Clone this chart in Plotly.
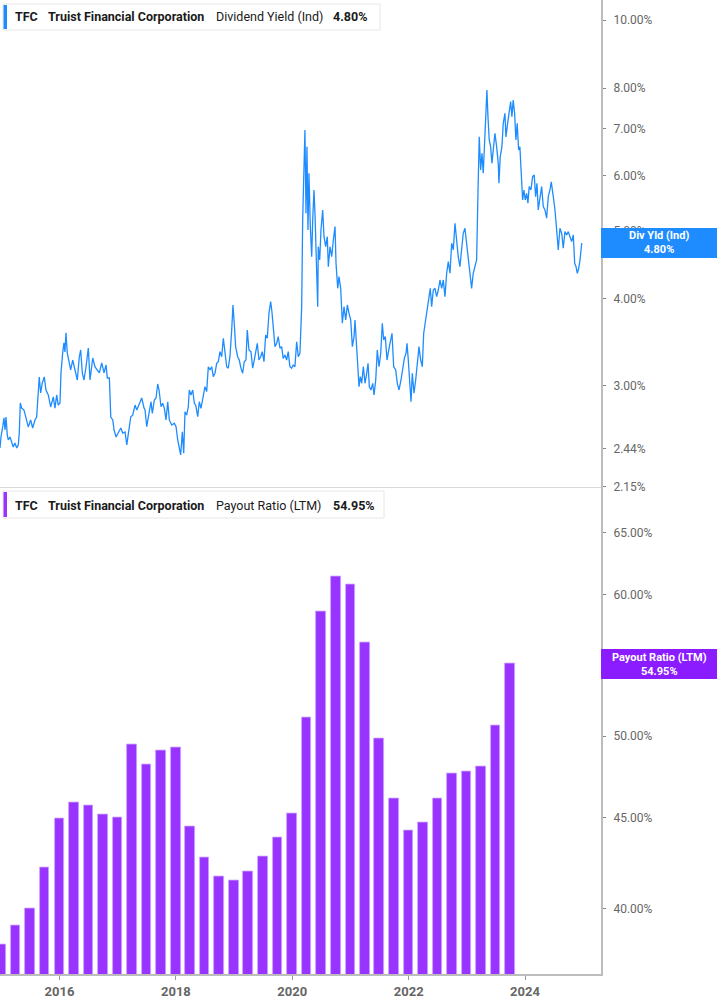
import pandas as pd
import plotly.graph_objects as go

# ---------------- data ----------------
yield_years = [
    2014.978, 2014.995, 2015.024, 2015.046, 2015.064, 2015.081, 2015.103, 2015.120, 2015.149, 2015.179,
    2015.206, 2015.235, 2015.265, 2015.292, 2015.309, 2015.327, 2015.350, 2015.390, 2015.424, 2015.464,
    2015.505, 2015.539, 2015.579, 2015.608, 2015.636, 2015.653, 2015.677, 2015.705, 2015.739, 2015.768,
    2015.808, 2015.849, 2015.894, 2015.923, 2015.952, 2015.979, 2016.009, 2016.026, 2016.055, 2016.077,
    2016.094, 2016.112, 2016.134, 2016.168, 2016.192, 2016.227, 2016.266, 2016.306, 2016.340, 2016.364,
    2016.392, 2016.421, 2016.455, 2016.495, 2016.524, 2016.571, 2016.610, 2016.649, 2016.684, 2016.725,
    2016.765, 2016.799, 2016.821, 2016.856, 2016.880, 2016.914, 2016.936, 2016.971, 2017.010, 2017.052,
    2017.086, 2017.125, 2017.155, 2017.182, 2017.223, 2017.258, 2017.297, 2017.327, 2017.371, 2017.412,
    2017.452, 2017.469, 2017.498, 2017.538, 2017.572, 2017.594, 2017.629, 2017.658, 2017.687, 2017.710,
    2017.744, 2017.773, 2017.801, 2017.830, 2017.859, 2017.887, 2017.928, 2017.972, 2018.002, 2018.031,
    2018.058, 2018.082, 2018.110, 2018.134, 2018.156, 2018.185, 2018.213, 2018.230, 2018.259, 2018.289,
    2018.316, 2018.340, 2018.375, 2018.402, 2018.431, 2018.471, 2018.500, 2018.529, 2018.557, 2018.586,
    2018.615, 2018.643, 2018.672, 2018.701, 2018.729, 2018.758, 2018.787, 2018.815, 2018.844, 2018.873,
    2018.900, 2018.929, 2018.959, 2018.981, 2019.003, 2019.027, 2019.062, 2019.089, 2019.119, 2019.148,
    2019.175, 2019.204, 2019.227, 2019.256, 2019.290, 2019.320, 2019.347, 2019.376, 2019.399, 2019.428,
    2019.457, 2019.485, 2019.514, 2019.543, 2019.571, 2019.600, 2019.629, 2019.651, 2019.680, 2019.703,
    2019.732, 2019.759, 2019.789, 2019.818, 2019.845, 2019.875, 2019.904, 2019.931, 2019.960, 2019.990,
    2020.017, 2020.046, 2020.076, 2020.103, 2020.132, 2020.162, 2020.179, 2020.201, 2020.218, 2020.236,
    2020.253, 2020.270, 2020.287, 2020.310, 2020.334, 2020.351, 2020.373, 2020.390, 2020.413, 2020.437,
    2020.447, 2020.471, 2020.493, 2020.522, 2020.545, 2020.574, 2020.601, 2020.619, 2020.648, 2020.677,
    2020.705, 2020.734, 2020.751, 2020.780, 2020.802, 2020.831, 2020.859, 2020.888, 2020.917, 2020.945,
    2020.974, 2021.003, 2021.031, 2021.060, 2021.077, 2021.106, 2021.124, 2021.146, 2021.168, 2021.192,
    2021.220, 2021.249, 2021.278, 2021.301, 2021.323, 2021.352, 2021.381, 2021.404, 2021.433, 2021.460,
    2021.490, 2021.519, 2021.546, 2021.570, 2021.598, 2021.627, 2021.657, 2021.684, 2021.713, 2021.742,
    2021.777, 2021.804, 2021.833, 2021.868, 2021.897, 2021.925, 2021.954, 2021.971, 2021.993, 2022.022,
    2022.040, 2022.062, 2022.091, 2022.120, 2022.148, 2022.177, 2022.206, 2022.234, 2022.258, 2022.285,
    2022.314, 2022.343, 2022.371, 2022.395, 2022.423, 2022.452, 2022.481, 2022.509, 2022.538, 2022.567,
    2022.595, 2022.624, 2022.653, 2022.681, 2022.710, 2022.739, 2022.767, 2022.796, 2022.825, 2022.852,
    2022.881, 2022.911, 2022.938, 2022.967, 2022.997, 2023.024, 2023.053, 2023.082, 2023.110, 2023.139,
    2023.168, 2023.191, 2023.213, 2023.237, 2023.260, 2023.282, 2023.306, 2023.328, 2023.345, 2023.363,
    2023.385, 2023.409, 2023.431, 2023.454, 2023.483, 2023.512, 2023.540, 2023.552, 2023.574, 2023.603,
    2023.626, 2023.655, 2023.672, 2023.701, 2023.729, 2023.753, 2023.775, 2023.797, 2023.821, 2023.844,
    2023.866, 2023.890, 2023.912, 2023.935, 2023.959, 2023.981, 2024.004, 2024.028, 2024.050, 2024.072,
    2024.101, 2024.131, 2024.158, 2024.182, 2024.205, 2024.227, 2024.256, 2024.285, 2024.313, 2024.342,
    2024.371, 2024.399, 2024.428, 2024.450, 2024.485, 2024.514, 2024.543, 2024.570, 2024.599, 2024.629,
    2024.656, 2024.685, 2024.715, 2024.742, 2024.771, 2024.800, 2024.828, 2024.852, 2024.875, 2024.897,
    2024.921, 2024.943, 2024.973,
]
yield_values = [
    2.443, 2.534, 2.619, 2.698, 2.593, 2.706, 2.550, 2.509, 2.534, 2.493,
    2.452, 2.484, 2.443, 2.468, 2.567, 2.834, 2.787, 2.769, 2.706, 2.619,
    2.680, 2.610, 2.680, 2.706, 2.939, 3.088, 2.929, 3.027, 3.088, 2.958,
    2.910, 2.797, 2.891, 2.787, 2.910, 2.815, 2.834, 3.129, 3.342, 3.454,
    3.353, 3.570, 3.342, 3.233, 3.160, 3.265, 3.160, 3.057, 3.298, 3.375,
    3.129, 3.057, 3.191, 3.397, 3.057, 3.287, 3.191, 3.160, 3.129, 3.233,
    3.129, 3.212, 3.077, 3.077, 2.706, 2.680, 2.593, 2.534, 2.567, 2.610,
    2.567, 2.576, 2.468, 2.567, 2.706, 2.724, 2.815, 2.769, 2.834, 2.881,
    2.787, 2.769, 2.621, 2.754, 2.846, 2.739, 2.862, 2.881, 3.017, 2.958,
    2.799, 2.831, 2.784, 2.680, 2.846, 2.680, 2.636, 2.651, 2.621, 2.509,
    2.427, 2.388, 2.578, 2.401, 2.754, 2.724, 2.799, 2.958, 2.910, 2.958,
    2.831, 2.815, 2.709, 2.846, 2.784, 2.894, 2.990, 2.942, 3.194, 3.160,
    3.194, 3.091, 3.126, 3.230, 3.247, 3.356, 3.301, 3.508, 3.338, 3.194,
    3.178, 3.301, 3.605, 3.914, 3.685, 3.412, 3.301, 3.265, 3.178, 3.126,
    3.247, 3.265, 3.605, 3.375, 3.356, 3.178, 3.265, 3.375, 3.450, 3.265,
    3.301, 3.356, 3.247, 3.546, 3.508, 3.808, 3.957, 3.828, 3.625, 3.412,
    3.450, 3.527, 3.394, 3.412, 3.283, 3.320, 3.265, 3.356, 3.194, 3.178,
    3.212, 3.194, 3.468, 3.301, 3.338, 3.892, 5.179, 5.974, 6.967, 5.295,
    6.594, 5.011, 6.041, 5.067, 4.589, 5.179, 5.717, 5.295, 4.589, 3.892,
    4.743, 4.540, 5.011, 5.353, 4.902, 4.743, 4.902, 4.441, 4.743, 4.589,
    4.849, 5.067, 4.491, 4.135, 4.298, 4.135, 3.685, 3.892, 3.725, 3.914,
    3.808, 3.725, 3.412, 3.527, 3.725, 3.412, 3.160, 2.990, 3.091, 3.024,
    3.194, 3.024, 3.126, 3.230, 2.990, 2.958, 3.024, 2.910, 3.057, 3.375,
    3.194, 3.338, 3.685, 3.488, 3.527, 3.265, 3.375, 3.488, 3.566, 3.194,
    3.160, 3.024, 2.958, 3.057, 3.160, 3.283, 3.338, 3.450, 3.265, 2.990,
    2.846, 3.126, 2.926, 3.057, 3.194, 3.412, 3.265, 3.194, 3.566, 3.685,
    3.850, 3.979, 4.135, 3.892, 4.112, 4.135, 4.023, 4.112, 4.250, 4.135,
    4.250, 4.023, 4.345, 4.515, 4.345, 4.797, 4.692, 5.124, 4.797, 4.589,
    4.441, 4.743, 4.957, 5.039, 4.797, 4.540, 4.393, 4.135, 4.345, 4.441,
    4.540, 5.655, 6.810, 6.107, 6.451, 6.041, 6.810, 7.775, 7.948, 7.280,
    6.741, 6.594, 6.242, 6.523, 6.891, 6.594, 6.242, 5.845, 6.380, 6.594,
    7.121, 7.361, 6.810, 7.121, 7.400, 7.648, 7.280, 7.691, 7.361, 6.741,
    7.121, 6.523, 6.594, 6.107, 5.532, 5.717, 5.532, 5.655, 5.472, 5.780,
    5.717, 5.974, 6.007, 5.593, 5.845, 5.353, 5.532, 5.780, 5.412, 5.353,
    5.209, 5.593, 5.717, 5.873, 5.593, 5.353, 5.011, 4.692, 5.039, 4.957,
    4.718, 4.984, 4.929, 4.984, 4.902, 4.822, 4.929, 4.491, 4.441, 4.345,
    4.417, 4.540, 4.800,
]

payout_quarters = [
    "2014-12-31", "2015-03-31", "2015-06-30", "2015-09-30", "2015-12-31",
    "2016-03-31", "2016-06-30", "2016-09-30", "2016-12-31",
    "2017-03-31", "2017-06-30", "2017-09-30", "2017-12-31",
    "2018-03-31", "2018-06-30", "2018-09-30", "2018-12-31",
    "2019-03-31", "2019-06-30", "2019-09-30", "2019-12-31",
    "2020-03-31", "2020-06-30", "2020-09-30", "2020-12-31",
    "2021-03-31", "2021-06-30", "2021-09-30", "2021-12-31",
    "2022-03-31", "2022-06-30", "2022-09-30", "2022-12-31",
    "2023-03-31", "2023-06-30", "2023-09-30",
]
payout_values = [
    38.19, 39.14, 40.00, 42.20, 44.96,
    45.90, 45.74, 45.18, 45.02,
    49.48, 48.22, 49.08, 49.25,
    44.48, 42.73, 41.72, 41.49,
    41.96, 42.79, 43.87, 45.25,
    51.22, 58.76, 61.45, 60.79,
    56.44, 49.85, 46.12, 44.29,
    44.75, 46.14, 47.64, 47.76,
    48.09, 50.71, 54.95,
]

yield_ticks = [2.15, 2.44, 3.00, 4.00, 5.00, 6.00, 7.00, 8.00, 10.00]
payout_ticks = [40, 45, 50, 55, 60, 65]
year_ticks = ["2016-01-01", "2018-01-01", "2020-01-01", "2022-01-01", "2024-01-01"]
year_labels = ["2016", "2018", "2020", "2022", "2024"]

ticker = "TFC"
company = "Truist Financial Corporation"
yield_name = "Dividend Yield (Ind)"
yield_last = "4.80%"
payout_name = "Payout Ratio (LTM)"
payout_last = "54.95%"


def yr2date(y):
    yr = int(y)
    start = pd.Timestamp(yr, 1, 1)
    return start + (pd.Timestamp(yr + 1, 1, 1) - start) * (y - yr)


yield_dates = [yr2date(v) for v in yield_years]

# ---------------- styling ----------------
BLUE = "#1E8CFF"
PURPLE = "#9933FF"
PURPLE_BOX = "#8A1CFF"
FONT = "Roboto"
AXIS_GREY = "#BDBDBD"
TICK_TXT = "#666666"

W, H = 717, 1005
ML, MR, MT, MB = 0, 116, 0, 31
PW, PH = W - ML - MR, H - MT - MB


def px(x):
    return (x - ML) / PW


def py(y):
    return 1 - (y - MT) / PH


fig = go.Figure()
fig.add_trace(go.Scatter(x=yield_dates, y=yield_values, mode="lines",
                         line=dict(color=BLUE, width=1.3), xaxis="x", yaxis="y",
                         showlegend=False, hoverinfo="skip"))
fig.add_trace(go.Bar(x=pd.to_datetime(payout_quarters), y=payout_values,
                     width=60 * 86400000, marker=dict(color=PURPLE, line=dict(color="#C9A3FF", width=0.8)),
                     xaxis="x2", yaxis="y2", showlegend=False, hoverinfo="skip"))

xr = [yr2date(2014.9777), yr2date(2025.304)]

fig.update_layout(
    width=W, height=H, margin=dict(l=ML, r=MR, t=MT, b=MB),
    paper_bgcolor="white", plot_bgcolor="white",
    font=dict(family=FONT, size=12, color=TICK_TXT),
    bargap=0,
    xaxis=dict(domain=[0, 1], anchor="y", range=xr, type="date", showticklabels=False,
               showgrid=False, zeroline=False, showline=True, linecolor="#DADADA", linewidth=1,
               ticks=""),
    xaxis2=dict(domain=[0, 1], anchor="y2", range=xr, type="date", matches="x",
                tickvals=pd.to_datetime(year_ticks), ticktext=year_labels,
                showgrid=False, zeroline=False, showline=True, linecolor=AXIS_GREY, linewidth=2,
                ticks="outside", ticklen=4, tickcolor="#999999", tickwidth=1,
                tickfont=dict(family=FONT, size=13, color=TICK_TXT, weight="bold")),
    yaxis=dict(domain=[0.5, 1], anchor="x", side="right", type="log",
               range=[0.3322, 1.0290], tickvals=yield_ticks,
               ticktext=[f"{v:.2f}%" for v in yield_ticks],
               showgrid=False, zeroline=False, showline=True, linecolor=AXIS_GREY, linewidth=2,
               ticks="outside", ticklen=3, tickcolor="#888888", ticklabelstandoff=5,
               tickfont=dict(family=FONT, size=12, color=TICK_TXT)),
    yaxis2=dict(domain=[0, 0.4995], anchor="x2", side="right", type="log",
                range=[1.5656, 1.8384], tickvals=payout_ticks,
                ticktext=[f"{v:.2f}%" for v in payout_ticks],
                showgrid=False, zeroline=False, showline=True, linecolor=AXIS_GREY, linewidth=2,
                ticks="outside", ticklen=3, tickcolor="#888888", ticklabelstandoff=5,
                tickfont=dict(family=FONT, size=12, color=TICK_TXT)),
)

shapes = []
annots = []


def legend_box(y0, y1, x1, color, name, last, ty):
    shapes.append(dict(type="rect", xref="paper", yref="paper", x0=px(3), x1=px(x1), y0=py(y1), y1=py(y0),
                       line=dict(color="#E6E6E6", width=1), fillcolor="white", layer="above"))
    shapes.append(dict(type="rect", xref="paper", yref="paper", x0=px(3.5), x1=px(7), y0=py(y1 - 1), y1=py(y0 + 1),
                       line=dict(width=0), fillcolor=color, layer="above"))
    parts = [(13, ticker, "bold"), (46, company, "bold"), (214, name, "normal"), (331, last, "bold")]
    for xx, txt, wt in parts:
        annots.append(dict(xref="paper", yref="paper", x=px(xx), y=py(ty), text=txt, showarrow=False,
                           xanchor="left", yanchor="middle",
                           font=dict(family=FONT, size=12.5, color="#1A1A1A", weight=wt)))


legend_box(4, 30, 380, BLUE, yield_name, yield_last, 16.5)
legend_box(491, 518, 384, PURPLE, payout_name, payout_last, 505)


def right_label(y0, y1, color, l1, l2):
    shapes.append(dict(type="rect", xref="paper", yref="paper", x0=px(601), x1=px(717), y0=py(y1), y1=py(y0),
                       line=dict(width=0), fillcolor=color, layer="above"))
    annots.append(dict(xref="paper", yref="paper", x=px(659), y=py((y0 + y1) / 2), text=f"{l1}<br>{l2}",
                       showarrow=False, xanchor="center", yanchor="middle", align="center",
                       font=dict(family=FONT, size=11, color="white", weight="bold")))


right_label(228, 258, BLUE, "Div Yld (Ind)", yield_last)
right_label(649, 679, PURPLE_BOX, "Payout Ratio (LTM)", payout_last)

fig.update_layout(shapes=shapes, annotations=annots)
fig.write_html("out.html", config={"displayModeBar": False},
               post_script="document.body.style.margin='0';document.body.style.padding='0';"
                           "document.body.style.overflow='hidden';")
